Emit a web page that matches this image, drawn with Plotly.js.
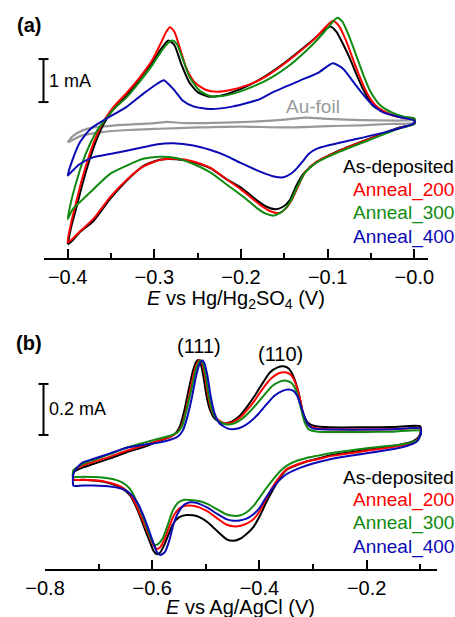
<!DOCTYPE html>
<html>
<head>
<meta charset="utf-8">
<script src="https://cdn.plot.ly/plotly-3.0.1.min.js"></script>
<style>html,body{margin:0;padding:0;background:#fff;}#chart{width:455px;height:617px;}</style>
</head>
<body>
<div id="chart"></div>
<script>
// ---------- DATA ----------
const seriesNames = ["As-deposited", "Anneal_200", "Anneal_300", "Anneal_400"];
const refName = "Au-foil";
const tickValsA = [-0.4, -0.3, -0.2, -0.1, 0.0];
const tickTextA = ["\u22120.4", "\u22120.3", "\u22120.2", "\u22120.1", "\u22120.0"];
const tickValsB = [-0.8, -0.6, -0.4, -0.2];
const tickTextB = ["\u22120.8", "\u22120.6", "\u22120.4", "\u22120.2"];
const axisTitleA = "<i>E</i> vs Hg/Hg<sub>2</sub>SO<sub>4</sub> (V)";
const axisTitleB = "<i>E</i> vs Ag/AgCl (V)";
const peakLabelsB = ["(111)", "(110)"];
const peakPosB_x = [-0.512, -0.360];
const peakPosB_y = [0.417, 0.385];
const scaleA_mA = 1.0;   // scale bar (a), mA
const scaleB_mA = 0.2;   // scale bar (b), mA

// Panel (a): E vs Hg/Hg2SO4 (V), current (mA, offset baseline)
const xA_black = [-0.400,-0.396,-0.390,-0.383,-0.375,-0.367,-0.358,-0.347,-0.332,-0.317,-0.301,-0.291,-0.284,-0.277,-0.269,-0.260,-0.250,-0.238,-0.225,-0.210,-0.190,-0.170,-0.150,-0.130,-0.115,-0.104,-0.097,-0.090,-0.082,-0.074,-0.066,-0.059,-0.048,-0.028,-0.012,0.000,
  0.000,-0.017,-0.048,-0.087,-0.113,-0.128,-0.136,-0.144,-0.152,-0.160,-0.170,-0.180,-0.200,-0.217,-0.235,-0.255,-0.275,-0.294,-0.313,-0.332,-0.351,-0.370,-0.386,-0.396,-0.400];
const yA_black = [-2.79,-2.40,-1.95,-1.40,-0.85,-0.38,0.02,0.35,0.66,1.05,1.47,1.78,1.94,1.84,1.40,0.98,0.74,0.64,0.65,0.74,0.91,1.14,1.42,1.74,1.99,2.18,2.27,2.15,1.85,1.51,1.12,0.81,0.43,0.23,0.15,0.12,
  0.00,-0.08,-0.31,-0.62,-0.89,-1.16,-1.43,-1.78,-1.93,-1.98,-1.93,-1.80,-1.48,-1.28,-1.03,-0.89,-0.82,-0.83,-0.98,-1.32,-1.74,-2.25,-2.52,-2.74,-2.80];

const xA_red = [-0.400,-0.396,-0.390,-0.383,-0.375,-0.367,-0.358,-0.347,-0.332,-0.317,-0.302,-0.292,-0.286,-0.282,-0.277,-0.271,-0.263,-0.253,-0.240,-0.228,-0.212,-0.190,-0.170,-0.150,-0.130,-0.115,-0.104,-0.094,-0.087,-0.079,-0.071,-0.062,-0.053,-0.043,-0.028,-0.012,0.000,
  0.000,-0.017,-0.048,-0.087,-0.113,-0.126,-0.133,-0.141,-0.149,-0.156,-0.166,-0.178,-0.200,-0.217,-0.235,-0.255,-0.275,-0.294,-0.313,-0.332,-0.351,-0.370,-0.386,-0.396,-0.400];
const yA_red = [-2.75,-2.30,-1.80,-1.25,-0.72,-0.28,0.08,0.40,0.72,1.08,1.50,1.90,2.15,2.25,2.15,1.80,1.30,0.96,0.79,0.75,0.79,0.92,1.12,1.40,1.72,1.98,2.22,2.40,2.28,1.95,1.52,1.05,0.66,0.40,0.22,0.14,0.11,
  0.00,-0.09,-0.32,-0.63,-0.88,-1.12,-1.40,-1.75,-1.98,-2.07,-2.03,-1.88,-1.52,-1.28,-1.02,-0.87,-0.81,-0.84,-0.99,-1.30,-1.70,-2.20,-2.50,-2.70,-2.75];

const xA_green = [-0.400,-0.396,-0.390,-0.383,-0.375,-0.366,-0.356,-0.345,-0.332,-0.317,-0.302,-0.291,-0.283,-0.279,-0.274,-0.267,-0.259,-0.248,-0.236,-0.222,-0.205,-0.185,-0.165,-0.145,-0.125,-0.110,-0.098,-0.089,-0.083,-0.076,-0.068,-0.059,-0.050,-0.040,-0.026,-0.012,0.000,
  0.000,-0.017,-0.048,-0.087,-0.113,-0.126,-0.134,-0.143,-0.152,-0.162,-0.172,-0.180,-0.198,-0.217,-0.235,-0.255,-0.275,-0.294,-0.313,-0.332,-0.351,-0.370,-0.385,-0.394,-0.400];
const yA_green = [-2.21,-1.80,-1.35,-0.90,-0.50,-0.15,0.12,0.38,0.62,0.98,1.38,1.72,1.90,1.94,1.86,1.50,1.08,0.78,0.65,0.65,0.73,0.88,1.08,1.35,1.70,2.00,2.28,2.47,2.38,2.08,1.65,1.15,0.73,0.45,0.27,0.17,0.13,
  0.00,-0.10,-0.34,-0.65,-0.90,-1.13,-1.42,-1.80,-2.03,-2.13,-2.08,-1.98,-1.68,-1.40,-1.13,-0.93,-0.79,-0.76,-0.81,-0.97,-1.16,-1.51,-1.80,-1.98,-2.21];

const xA_blue = [-0.400,-0.394,-0.386,-0.374,-0.359,-0.332,-0.313,-0.297,-0.289,-0.278,-0.267,-0.255,-0.236,-0.209,-0.178,-0.163,-0.132,-0.111,-0.094,-0.082,-0.067,-0.051,-0.036,-0.017,0.000,
  0.000,-0.028,-0.067,-0.100,-0.113,-0.122,-0.128,-0.135,-0.142,-0.151,-0.162,-0.175,-0.201,-0.217,-0.236,-0.255,-0.278,-0.296,-0.313,-0.351,-0.370,-0.386,-0.395,-0.400];
const yA_blue = [-1.20,-0.81,-0.43,-0.12,0.08,0.40,0.70,0.93,1.02,0.81,0.54,0.41,0.35,0.41,0.58,0.74,1.01,1.19,1.41,1.28,0.89,0.50,0.27,0.16,0.08,
  0.02,-0.16,-0.35,-0.50,-0.58,-0.70,-0.85,-1.02,-1.15,-1.24,-1.22,-1.13,-0.90,-0.74,-0.60,-0.50,-0.45,-0.47,-0.54,-0.70,-0.77,-0.93,-1.10,-1.20];

const xA_gold = [-0.400,-0.394,-0.384,-0.370,-0.345,-0.300,-0.285,-0.265,-0.220,-0.180,-0.150,-0.124,-0.100,-0.060,-0.020,0.000,
  0.000,-0.030,-0.060,-0.100,-0.150,-0.200,-0.250,-0.294,-0.330,-0.360,-0.384,-0.395,-0.400];
const yA_gold = [-0.42,-0.28,-0.16,-0.08,-0.03,0.02,0.05,0.02,0.03,0.06,0.10,0.15,0.12,0.09,0.08,0.08,
  0.03,0.00,-0.03,-0.05,-0.08,-0.06,-0.08,-0.11,-0.14,-0.19,-0.27,-0.38,-0.43];

// Panel (b): E vs Ag/AgCl (V), current (mA, offset baseline)
const xB_black = [-0.747,-0.730,-0.710,-0.680,-0.648,-0.615,-0.585,-0.565,-0.555,-0.548,-0.540,-0.532,-0.524,-0.518,-0.514,-0.510,-0.505,-0.499,-0.492,-0.483,-0.468,-0.452,-0.436,-0.424,-0.411,-0.399,-0.380,-0.366,-0.355,-0.345,-0.337,-0.327,-0.318,-0.309,-0.295,-0.270,-0.200,-0.150,-0.100,
  -0.099,-0.105,-0.115,-0.138,-0.200,-0.262,-0.293,-0.312,-0.330,-0.349,-0.362,-0.374,-0.387,-0.399,-0.411,-0.424,-0.437,-0.449,-0.462,-0.480,-0.496,-0.511,-0.524,-0.536,-0.550,-0.561,-0.571,-0.579,-0.586,-0.592,-0.598,-0.604,-0.614,-0.623,-0.632,-0.641,-0.654,-0.666,-0.690,-0.710,-0.730,-0.747,-0.748,-0.747];
const yB_black = [-0.078,-0.060,-0.046,-0.025,0.000,0.022,0.046,0.062,0.078,0.104,0.165,0.245,0.320,0.355,0.362,0.350,0.305,0.225,0.165,0.131,0.113,0.120,0.144,0.176,0.215,0.255,0.314,0.333,0.337,0.328,0.300,0.235,0.150,0.115,0.102,0.098,0.098,0.099,0.102,
  0.080,0.055,0.042,0.030,0.010,-0.010,-0.026,-0.036,-0.050,-0.068,-0.100,-0.144,-0.195,-0.249,-0.292,-0.320,-0.340,-0.347,-0.340,-0.307,-0.275,-0.255,-0.247,-0.246,-0.255,-0.280,-0.330,-0.370,-0.395,-0.399,-0.385,-0.353,-0.300,-0.249,-0.205,-0.170,-0.145,-0.131,-0.116,-0.111,-0.108,-0.107,-0.090,-0.078];

const xB_red = [-0.747,-0.730,-0.710,-0.680,-0.648,-0.615,-0.585,-0.565,-0.553,-0.545,-0.537,-0.529,-0.521,-0.515,-0.511,-0.507,-0.502,-0.496,-0.489,-0.480,-0.465,-0.450,-0.434,-0.422,-0.409,-0.397,-0.378,-0.364,-0.352,-0.342,-0.334,-0.325,-0.317,-0.308,-0.294,-0.270,-0.200,-0.150,-0.100,
  -0.099,-0.105,-0.115,-0.138,-0.200,-0.262,-0.293,-0.312,-0.330,-0.349,-0.362,-0.374,-0.387,-0.399,-0.411,-0.424,-0.437,-0.449,-0.462,-0.480,-0.496,-0.511,-0.524,-0.535,-0.548,-0.559,-0.569,-0.578,-0.585,-0.590,-0.596,-0.603,-0.613,-0.623,-0.632,-0.641,-0.654,-0.666,-0.690,-0.710,-0.730,-0.747,-0.748,-0.747];
const yB_red = [-0.072,-0.052,-0.038,-0.018,0.006,0.027,0.048,0.062,0.078,0.104,0.165,0.245,0.320,0.355,0.362,0.350,0.305,0.225,0.165,0.132,0.114,0.118,0.140,0.168,0.203,0.240,0.290,0.310,0.314,0.305,0.278,0.215,0.140,0.105,0.094,0.090,0.089,0.090,0.093,
  0.075,0.050,0.038,0.026,0.006,-0.013,-0.028,-0.036,-0.048,-0.066,-0.095,-0.131,-0.180,-0.229,-0.262,-0.280,-0.289,-0.290,-0.283,-0.257,-0.233,-0.217,-0.210,-0.209,-0.218,-0.245,-0.295,-0.345,-0.372,-0.379,-0.370,-0.340,-0.290,-0.240,-0.198,-0.165,-0.140,-0.128,-0.114,-0.110,-0.108,-0.107,-0.090,-0.072];

const xB_green = [-0.747,-0.730,-0.710,-0.680,-0.648,-0.615,-0.585,-0.565,-0.552,-0.544,-0.536,-0.527,-0.519,-0.513,-0.509,-0.505,-0.500,-0.494,-0.487,-0.478,-0.463,-0.448,-0.432,-0.420,-0.407,-0.395,-0.376,-0.362,-0.350,-0.340,-0.332,-0.324,-0.316,-0.308,-0.294,-0.270,-0.200,-0.150,-0.100,
  -0.099,-0.105,-0.115,-0.138,-0.200,-0.262,-0.293,-0.312,-0.330,-0.349,-0.362,-0.374,-0.387,-0.399,-0.411,-0.424,-0.437,-0.449,-0.462,-0.480,-0.496,-0.511,-0.524,-0.542,-0.552,-0.562,-0.571,-0.580,-0.588,-0.595,-0.600,-0.606,-0.615,-0.625,-0.634,-0.643,-0.656,-0.668,-0.690,-0.710,-0.730,-0.747,-0.748,-0.747];
const yB_green = [-0.070,-0.046,-0.030,-0.008,0.018,0.038,0.055,0.066,0.080,0.104,0.165,0.245,0.320,0.355,0.360,0.348,0.300,0.218,0.158,0.126,0.110,0.113,0.132,0.155,0.185,0.215,0.260,0.277,0.281,0.272,0.245,0.185,0.120,0.090,0.082,0.080,0.080,0.081,0.085,
  0.070,0.048,0.040,0.030,0.016,-0.002,-0.014,-0.022,-0.033,-0.052,-0.075,-0.105,-0.140,-0.176,-0.210,-0.235,-0.248,-0.249,-0.243,-0.222,-0.203,-0.192,-0.188,-0.187,-0.198,-0.230,-0.285,-0.335,-0.358,-0.363,-0.350,-0.318,-0.265,-0.213,-0.170,-0.140,-0.118,-0.108,-0.100,-0.097,-0.096,-0.096,-0.085,-0.070];

const xB_blue = [-0.747,-0.740,-0.730,-0.710,-0.680,-0.648,-0.615,-0.585,-0.565,-0.552,-0.543,-0.535,-0.526,-0.518,-0.511,-0.506,-0.502,-0.497,-0.491,-0.484,-0.475,-0.460,-0.445,-0.430,-0.416,-0.403,-0.390,-0.372,-0.358,-0.346,-0.336,-0.328,-0.320,-0.311,-0.302,-0.285,-0.250,-0.200,-0.150,-0.100,
  -0.099,-0.105,-0.115,-0.138,-0.200,-0.262,-0.293,-0.312,-0.330,-0.349,-0.362,-0.374,-0.387,-0.399,-0.411,-0.424,-0.437,-0.449,-0.462,-0.480,-0.496,-0.511,-0.521,-0.529,-0.540,-0.551,-0.560,-0.568,-0.576,-0.585,-0.591,-0.598,-0.607,-0.617,-0.627,-0.638,-0.650,-0.666,-0.690,-0.710,-0.730,-0.747,-0.748,-0.747];
const yB_blue = [-0.085,-0.060,-0.040,-0.026,-0.005,0.018,0.030,0.039,0.050,0.062,0.085,0.135,0.215,0.300,0.350,0.360,0.345,0.300,0.220,0.155,0.115,0.094,0.091,0.102,0.122,0.148,0.180,0.222,0.240,0.246,0.240,0.215,0.165,0.115,0.095,0.090,0.089,0.089,0.090,0.094,
  0.072,0.045,0.032,0.018,-0.004,-0.024,-0.040,-0.052,-0.066,-0.085,-0.108,-0.137,-0.175,-0.216,-0.243,-0.260,-0.267,-0.268,-0.262,-0.240,-0.218,-0.203,-0.197,-0.196,-0.205,-0.235,-0.280,-0.345,-0.390,-0.403,-0.392,-0.355,-0.300,-0.245,-0.200,-0.168,-0.148,-0.138,-0.132,-0.130,-0.130,-0.131,-0.110,-0.085];

// ---------- STYLE ----------
const colors = ["#000000", "#ff0000", "#118a11", "#0a0ab4"];
const goldColor = "#999999";
const FONT = "Liberation Sans, Arial, sans-serif";
const W = 455, H = 617;
const px = v => v / W;          // horizontal pixel -> paper
const py = v => (H - v) / H;    // vertical pixel -> paper

const A = [[xA_black, yA_black], [xA_red, yA_red], [xA_green, yA_green], [xA_blue, yA_blue]];
const B = [[xB_black, yB_black], [xB_red, yB_red], [xB_green, yB_green], [xB_blue, yB_blue]];

const traces = [];
traces.push({x: xA_gold, y: yA_gold, xaxis: "x", yaxis: "y", mode: "lines", name: refName,
  line: {color: goldColor, width: 2.2, shape: "spline", smoothing: 0.6}, hoverinfo: "skip"});
A.forEach((d, i) => traces.push({x: d[0], y: d[1], xaxis: "x", yaxis: "y", mode: "lines", name: seriesNames[i],
  line: {color: colors[i], width: 2, shape: "spline", smoothing: 0.6}}));
B.forEach((d, i) => traces.push({x: d[0], y: d[1], xaxis: "x2", yaxis: "y2", mode: "lines", name: seriesNames[i],
  line: {color: colors[i], width: 2, shape: "spline", smoothing: 0.6}}));

const axisCommon = {
  showline: true, linecolor: "#000", linewidth: 2, mirror: false,
  ticks: "inside", ticklen: 9, tickwidth: 2, tickcolor: "#000",
  showgrid: false, zeroline: false,
  tickfont: {family: FONT, size: 20, color: "#000"},
  fixedrange: true
};

function ann(o) {
  return Object.assign({showarrow: false, xanchor: "center", yanchor: "middle", borderpad: 0}, o);
}
const annotations = [];
// panel labels
annotations.push(ann({text: "<b>(a)</b>", xref: "paper", yref: "paper", x: px(29), y: py(25),
  font: {family: FONT, size: 20, color: "#000"}}));
annotations.push(ann({text: "<b>(b)</b>", xref: "paper", yref: "paper", x: px(29), y: py(343),
  font: {family: FONT, size: 20, color: "#000"}}));
// axis titles
annotations.push(ann({text: axisTitleA, xref: "paper", yref: "paper", x: px(236), y: py(299),
  font: {family: FONT, size: 20, color: "#000"}}));
annotations.push(ann({text: axisTitleB, xref: "paper", yref: "paper", x: px(240), y: py(606.5),
  font: {family: FONT, size: 20, color: "#000"}}));
// legends
const legA = [166, 190, 213, 237], legB = [477, 500, 523, 547];
seriesNames.forEach((n, i) => {
  annotations.push(ann({text: n, xref: "paper", yref: "paper", x: px(455), y: py(legA[i]), xanchor: "right",
    font: {family: FONT, size: 19, color: colors[i]}}));
  annotations.push(ann({text: n, xref: "paper", yref: "paper", x: px(455), y: py(legB[i]), xanchor: "right",
    font: {family: FONT, size: 19, color: colors[i]}}));
});
// Au-foil label
annotations.push(ann({text: refName, xref: "x", yref: "y", x: -0.117, y: 0.40,
  font: {family: FONT, size: 19, color: goldColor}}));
// peak labels
peakLabelsB.forEach((t, i) => annotations.push(ann({text: t, xref: "x2", yref: "y2", x: peakPosB_x[i], y: peakPosB_y[i],
  font: {family: FONT, size: 20, color: "#000"}})));
// scale bar labels
const barA0 = 0.51, barB0 = 0.068;
annotations.push(ann({text: scaleA_mA + " mA", xref: "paper", yref: "y", x: px(48), y: barA0 + scaleA_mA / 2, xanchor: "left",
  font: {family: FONT, size: 18, color: "#000"}}));
annotations.push(ann({text: scaleB_mA + " mA", xref: "paper", yref: "y2", x: px(48), y: barB0 + scaleB_mA / 2, xanchor: "left",
  font: {family: FONT, size: 18, color: "#000"}}));

const shapes = [];
function scaleBar(yref, y0, len, xc) {
  const ln = {color: "#000", width: 2};
  shapes.push({type: "line", xref: "paper", yref: yref, x0: px(xc), x1: px(xc), y0: y0, y1: y0 + len, line: ln});
  shapes.push({type: "line", xref: "paper", yref: yref, x0: px(xc - 5), x1: px(xc + 5), y0: y0, y1: y0, line: ln});
  shapes.push({type: "line", xref: "paper", yref: yref, x0: px(xc - 5), x1: px(xc + 5), y0: y0 + len, y1: y0 + len, line: ln});
}
scaleBar("y", barA0, scaleA_mA, 43.5);
scaleBar("y2", barB0, scaleB_mA, 43.5);

const layout = {
  width: W, height: H,
  margin: {l: 0, r: 0, t: 0, b: 0},
  paper_bgcolor: "#fff", plot_bgcolor: "rgba(0,0,0,0)",
  showlegend: false,
  font: {family: FONT, color: "#000"},
  xaxis: Object.assign({}, axisCommon, {
    domain: [px(44), px(428)], range: [-0.4273, 0.0158], anchor: "y",
    tickvals: tickValsA, ticktext: tickTextA,
    minor: {ticks: "inside", ticklen: 5, tickwidth: 2, tickcolor: "#000", tickvals: [-0.35, -0.25, -0.15, -0.05]}
  }),
  yaxis: {domain: [py(258), py(14)], range: [-3.116, 2.558], visible: false, fixedrange: true, anchor: "x"},
  xaxis2: Object.assign({}, axisCommon, {
    domain: [px(45), px(437)], range: [-0.8, -0.0687], anchor: "y2",
    tickvals: tickValsB, ticktext: tickTextB,
    minor: {ticks: "inside", ticklen: 5, tickwidth: 2, tickcolor: "#000", tickvals: [-0.7, -0.5, -0.3, -0.1]}
  }),
  yaxis2: {domain: [py(569), py(339)], range: [-0.4576, 0.4443], visible: false, fixedrange: true, anchor: "x2"},
  annotations: annotations,
  shapes: shapes
};

Plotly.newPlot("chart", traces, layout, {displayModeBar: false, staticPlot: true});
</script>
</body>
</html>
